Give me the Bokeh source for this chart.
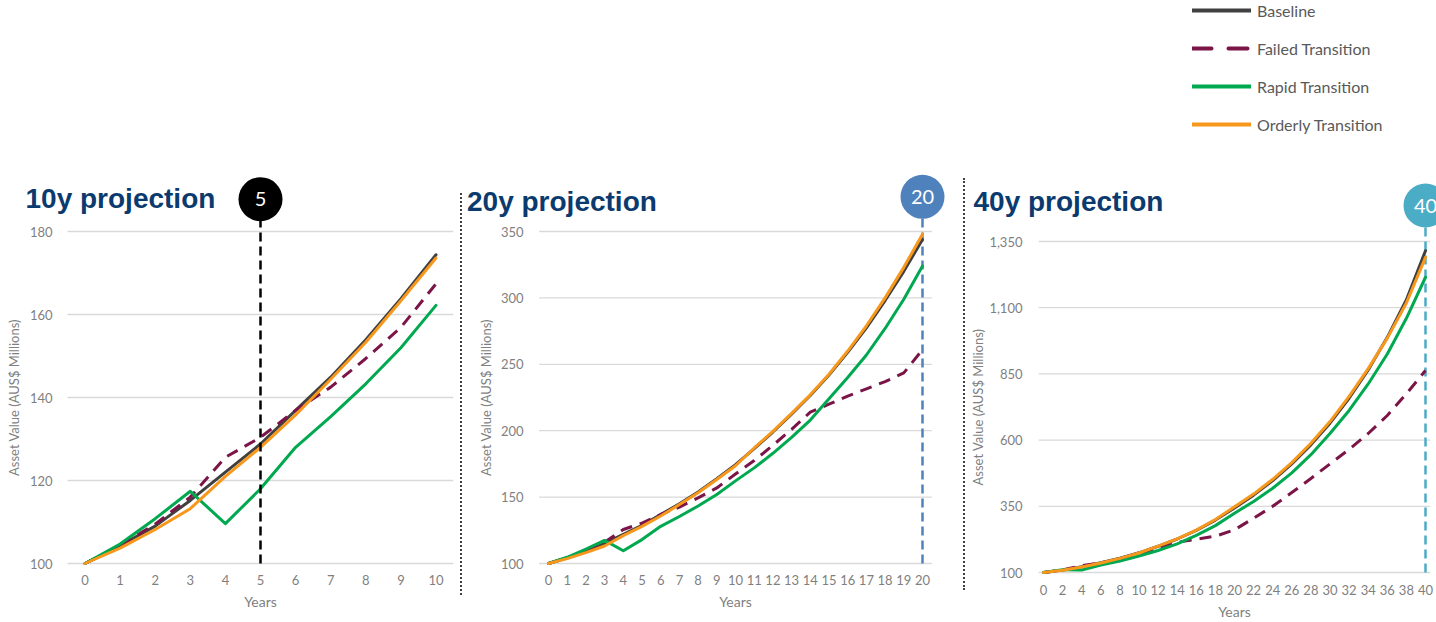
from bokeh.plotting import figure
from bokeh.layouts import row, column
from bokeh.models import (Label, Legend, LegendItem, FixedTicker, NumeralTickFormatter,
                          Div, Spacer)
from bokeh.core.properties import value
from bokeh.embed import file_html
from bokeh.resources import INLINE

# ---------------- data ----------------
SERIES = ["Baseline", "Failed Transition", "Rapid Transition", "Orderly Transition"]
COLORS = ["#404040", "#7B1548", "#00A94F", "#F7981D"]
DASHES = ["solid", "12 8", "solid", "solid"]
LEGEND_DASHES = ["solid", "19 17", "solid", "solid"]

years_10 = [0, 1, 2, 3, 4, 5, 6, 7, 8, 9, 10]
baseline_10 = [100, 104.3, 109, 115.2, 122, 128.8, 136.9, 144.9, 153.9, 163.8, 174.4]
failed_10 = [100, 104.3, 109.5, 116, 125.6, 130.4, 136.9, 142.5, 149.4, 156.9, 167.4]
rapid_10 = [100, 104.7, 110.8, 117.4, 109.6, 118, 128, 135.4, 143.3, 152, 162.2]
orderly_10 = [100, 103.7, 108.2, 113.2, 121, 128, 135.8, 144.4, 153.3, 163.3, 173.6]
yticks_10 = [100, 120, 140, 160, 180]
xticks_10 = [0, 1, 2, 3, 4, 5, 6, 7, 8, 9, 10]

years_20 = list(range(0, 21))
baseline_20 = [100, 104.3, 109, 115.2, 122, 128.8, 136.9, 144.9, 153.9, 163.8, 174.4,
               186.5, 199, 212.5, 226.5, 242, 259, 277.5, 298, 320, 344]
failed_20 = [100, 104.3, 109.5, 116, 125.6, 130.4, 136.9, 142.5, 149.4, 156.9, 167.4,
             177.5, 189, 201, 214, 220, 226, 231.5, 237, 243.5, 261]
rapid_20 = [100, 104.7, 110.8, 117.4, 109.6, 118, 128, 135.4, 143.3, 152, 162.2,
            172, 183, 195, 208, 224, 240, 257, 277, 299, 324]
orderly_20 = [100, 103.7, 108.2, 113.2, 121, 128, 135.8, 144.4, 153.3, 163.3, 173.6,
              187, 199.5, 213, 227, 242.5, 260, 279, 300, 323, 348]
yticks_20 = [100, 150, 200, 250, 300, 350]
xticks_20 = list(range(0, 21))

years_40 = list(range(0, 41, 2))
baseline_40 = [100, 109, 122, 136.9, 153.9, 174.4, 199, 226.5, 259, 298, 344,
               392, 447, 510, 582, 664, 758, 865, 988, 1130, 1315]
failed_40 = [100, 109.5, 125.6, 136.9, 149.4, 167.4, 189, 214, 226, 237, 261,
             305, 350, 402, 455, 510, 565, 625, 693, 775, 863]
rapid_40 = [100, 110.8, 109.6, 128, 143.3, 162.2, 183, 208, 240, 277, 324,
            368, 418, 476, 545, 625, 712, 812, 925, 1060, 1215]
orderly_40 = [100, 108.2, 121, 135.8, 153.3, 173.6, 199.5, 227, 260, 300, 348,
              396, 452, 515, 588, 670, 765, 870, 985, 1118, 1290]
yticks_40 = [100, 350, 600, 850, 1100, 1350]
xticks_40 = list(range(0, 41, 2))

titles = ["10y projection", "20y projection", "40y projection"]
marker_years = [5, 20, 40]
marker_texts = ["5", "20", "40"]
marker_colors = ["#000000", "#4F81BD", "#4BACC6"]

TITLE_COLOR = "#0B3B6E"
TICK_COLOR = "#7F7F7F"
GRID_COLOR = "#D9D9D9"
FONT = "Lato"

ROW_TOP = 150
ROW_H = 472


def make_panel(title, years, vals, xticks, yticks, m_year, m_text, m_color,
               fig_left, fig_w, axis_px, frame_r, x_first_px, x_last_px,
               frame_t, xaxis_py, y_lo_px, y_hi_px, title_px, circle_py,
               marker_on_top, ytick_so, ylab_so, xtick_so, xlab_so, comma=False):
    frame_l = fig_left
    frame_b = ROW_TOP + ROW_H
    x_lo, x_hi = years[0], years[-1]
    ppx = (x_last_px - x_first_px) / (x_hi - x_lo)
    xs = x_lo - (x_first_px - frame_l) / ppx
    xe = x_hi + (frame_r - x_last_px) / ppx
    y_lo, y_hi = yticks[0], yticks[-1]
    ppy = (y_lo_px - y_hi_px) / (y_hi - y_lo)
    ys = y_lo - (frame_b - y_lo_px) / ppy
    ye = y_hi + (y_hi_px - frame_t) / ppy

    def px2x(px):
        return x_lo + (px - x_first_px) / ppx

    def py2y(py):
        return y_lo + (y_lo_px - py) / ppy

    p = figure(width=fig_w, height=ROW_H, x_range=(xs, xe), y_range=(ys, ye),
               output_backend="svg", toolbar_location=None,
               min_border_left=0,
               min_border_right=int(round(fig_left + fig_w - frame_r)),
               min_border_top=int(round(frame_t - ROW_TOP)),
               min_border_bottom=0)
    p.outline_line_color = None
    p.xgrid.visible = False
    p.ygrid.visible = False
    p.background_fill_color = "white"
    p.border_fill_color = "white"

    # gridlines spanning the category area
    n = len(yticks)
    p.segment(x0=[x_lo - 0.5] * n, x1=[x_hi + 0.5] * n, y0=yticks, y1=yticks,
              line_color=GRID_COLOR, line_width=1.3)

    cy = py2y(circle_py)

    def draw_marker_line():
        p.segment(x0=[m_year], x1=[m_year], y0=[y_lo], y1=[cy],
                  line_color=m_color, line_width=2.5, line_dash="9 5")

    if not marker_on_top:
        draw_marker_line()

    for name, v, c, d in zip(SERIES, vals, COLORS, DASHES):
        p.line(years, v, line_color=c, line_width=3, line_dash=d,
               line_join="round", line_cap="butt" if d != "solid" else "round")

    if marker_on_top:
        draw_marker_line()

    p.scatter(x=[m_year], y=[cy], size=44, fill_color=m_color, line_color=None)
    p.text(x=[m_year], y=[cy], text=[m_text], text_align="center",
           text_baseline="middle", text_color="white",
           text_font=value(FONT), text_font_size="20px")

    p.add_layout(Label(x=px2x(title_px[0]), y=py2y(title_px[1]), text=title,
                       text_font="Liberation Sans", text_font_style="bold",
                       text_font_size="28px", text_color=TITLE_COLOR,
                       text_align="left", text_baseline="alphabetic"))

    # axes (drawn at fixed positions inside the canvas)
    p.xaxis.ticker = FixedTicker(ticks=xticks)
    p.yaxis.ticker = FixedTicker(ticks=yticks)
    p.yaxis.fixed_location = px2x(axis_px)
    p.xaxis.fixed_location = py2y(xaxis_py)
    p.xaxis.bounds = (x_lo - 0.5, x_hi + 0.5)
    p.yaxis.bounds = (y_lo, y_hi)
    if comma:
        p.yaxis.formatter = NumeralTickFormatter(format="0,0")
    for ax in (p.xaxis[0], p.yaxis[0]):
        ax.axis_line_color = None
        ax.major_tick_line_color = None
        ax.minor_tick_line_color = None
        ax.major_tick_out = 0
        ax.major_tick_in = 0
        ax.major_label_text_font = FONT
        ax.major_label_text_font_size = "13px"
        ax.major_label_text_color = TICK_COLOR
        ax.axis_label_text_font = FONT
        ax.axis_label_text_font_style = "normal"
        ax.axis_label_text_color = TICK_COLOR
    p.xaxis.axis_label = "Years"
    p.xaxis.axis_label_text_font_size = "14px"
    p.yaxis.axis_label = "Asset Value (AUS$ Millions)"
    p.yaxis.axis_label_text_font_size = "13px"
    p.yaxis.major_label_standoff = ytick_so
    p.yaxis.axis_label_standoff = ylab_so
    p.xaxis.major_label_standoff = xtick_so
    p.xaxis.axis_label_standoff = xlab_so
    return p


p1 = make_panel(titles[0], years_10, [baseline_10, failed_10, rapid_10, orderly_10],
                xticks_10, yticks_10, marker_years[0], marker_texts[0], marker_colors[0],
                fig_left=0, fig_w=460, axis_px=67, frame_r=453,
                x_first_px=84.5, x_last_px=435.5, frame_t=168, xaxis_py=565,
                y_lo_px=563, y_hi_px=231, title_px=(25, 198), circle_py=198.7,
                marker_on_top=True, ytick_so=15, ylab_so=5, xtick_so=9, xlab_so=5)

p2 = make_panel(titles[1], years_20, [baseline_20, failed_20, rapid_20, orderly_20],
                xticks_20, yticks_20, marker_years[1], marker_texts[1], marker_colors[1],
                fig_left=463, fig_w=500, axis_px=538, frame_r=950,
                x_first_px=548, x_last_px=922, frame_t=168, xaxis_py=565,
                y_lo_px=563, y_hi_px=231, title_px=(466.5, 200.5), circle_py=196.3,
                marker_on_top=False, ytick_so=15, ylab_so=4, xtick_so=9, xlab_so=5)

p3 = make_panel(titles[2], years_40, [baseline_40, failed_40, rapid_40, orderly_40],
                xticks_40, yticks_40, marker_years[2], marker_texts[2], marker_colors[2],
                fig_left=966, fig_w=470, axis_px=1037, frame_r=1436,
                x_first_px=1043, x_last_px=1425, frame_t=168, xaxis_py=574,
                y_lo_px=572, y_hi_px=241, title_px=(973, 200.5), circle_py=205,
                marker_on_top=False, ytick_so=15, ylab_so=0, xtick_so=10, xlab_so=5,
                comma=True)

# ---------------- legend ----------------
lg = figure(width=244, height=150, x_range=(0, 1), y_range=(0, 1),
            x_axis_type=None, y_axis_type=None, output_backend="svg",
            toolbar_location=None, min_border=0)
lg.outline_line_color = None
lg.xgrid.visible = False
lg.ygrid.visible = False
items = []
for name, c, d in zip(SERIES, COLORS, LEGEND_DASHES):
    # legend-only renderer: its single point lies outside the visible range
    r = lg.line(x=[-1], y=[-1], line_color=c, line_width=4, line_dash=d,
                line_cap="round")
    items.append(LegendItem(label=name, renderers=[r]))
legend = Legend(items=items, location="top_left", margin=0, padding=4,
                glyph_width=59, glyph_height=20, label_height=20, spacing=18,
                label_standoff=6, label_text_font=FONT, label_text_font_size="16px",
                label_text_color="#595959", border_line_color=None,
                background_fill_alpha=0)
lg.add_layout(legend)

sep1 = Div(text="", width=3, height=402, margin=(43, 0, 0, 0),
           styles={"border-left": "2px dotted #404040", "box-sizing": "border-box"})
sep2 = Div(text="", width=3, height=412, margin=(28, 0, 0, 0),
           styles={"border-left": "2px dotted #404040", "box-sizing": "border-box"})

layout = column(row(Spacer(width=1192, height=150), lg),
                row(p1, sep1, p2, sep2, p3))

open("out.html", "w").write(file_html(layout, INLINE, title="Asset value projections"))
